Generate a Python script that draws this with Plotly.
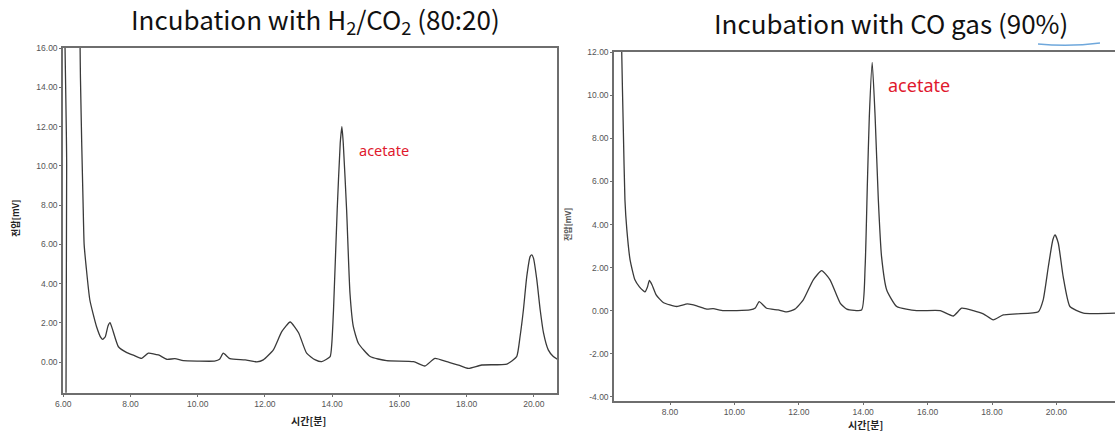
import plotly.graph_objects as go

# ---- data ----
left_time = [6.08, 6.10, 6.13, 6.45, 6.50, 6.51, 6.55, 6.59, 6.62, 6.68, 6.79, 6.99, 7.12, 7.17, 7.25, 7.33,
             7.39, 7.46, 7.64, 7.89, 8.10, 8.33, 8.53, 8.83, 9.08, 9.32, 9.57, 10.0, 10.5, 10.65, 10.76,
             10.96, 11.41, 11.76, 11.95, 12.25, 12.50, 12.75, 13.00, 13.24, 13.50, 13.69, 13.94, 13.99,
             14.04, 14.15, 14.24, 14.29, 14.33, 14.43, 14.53, 14.63, 14.78, 15.13, 15.62, 16.42, 16.76,
             17.06, 17.41, 17.76, 18.05, 18.45, 19.20, 19.49, 19.59, 19.69, 19.79, 19.89, 19.94, 19.99,
             20.09, 20.19, 20.29, 20.43, 20.58, 20.73]
left_signal = [-2.0, 10.0, 30.0, 30.0, 16.0, 14.5, 11.0, 8.0, 6.0, 4.87, 3.17, 1.81, 1.25, 1.17, 1.3, 1.85,
               2.02, 1.7, 0.79, 0.49, 0.35, 0.2, 0.46, 0.37, 0.15, 0.18, 0.08, 0.06, 0.06, 0.15, 0.46,
               0.18, 0.12, 0.02, 0.12, 0.63, 1.56, 2.05, 1.5, 0.46, 0.12, 0.03, 0.29, 0.97,
               2.66, 7.76, 11.16, 12.0, 11.16, 7.76, 3.51, 1.81, 0.97, 0.29, 0.08, 0.03, -0.19,
               0.2, 0.03, -0.14, -0.31, -0.14, -0.09, 0.29, 1.3, 2.66, 4.36, 5.38, 5.47, 5.3,
               4.19, 2.66, 1.48, 0.63, 0.29, 0.12]

right_time = [6.27, 6.45, 6.50, 6.55, 6.60, 6.66, 6.76, 6.91, 7.05, 7.17, 7.22, 7.30, 7.36, 7.44, 7.57, 7.79,
              8.21, 8.54, 8.83, 9.14, 9.34, 9.66, 10.48, 10.65, 10.77, 11.00, 11.36, 11.62, 11.88, 12.14,
              12.45, 12.71, 12.97, 13.29, 13.49, 13.95, 14.06, 14.13, 14.19, 14.28, 14.37, 14.47, 14.57,
              14.73, 15.04, 15.66, 16.39, 16.80, 17.06, 17.42, 17.73, 18.04, 18.35, 18.77, 19.44, 19.59,
              19.75, 19.89, 19.96, 20.06, 20.21, 20.42, 20.84, 21.82]
right_signal = [40.0, 20.0, 12.05, 8.41, 5.15, 3.75, 2.36, 1.43, 1.1, 0.92, 0.87, 1.1, 1.40, 1.2, 0.73, 0.38,
                0.19, 0.31, 0.22, 0.07, 0.09, 0.0, 0.03, 0.12, 0.42, 0.11, 0.03, -0.06, 0.07, 0.5,
                1.43, 1.86, 1.43, 0.34, 0.07, 0.03, 2.05, 5.93, 9.02, 11.53, 9.02, 5.15, 2.51,
                0.96, 0.19, 0.0, 0.0, -0.25, 0.11, 0.0, -0.15, -0.43, -0.2, -0.15, -0.05, 0.5,
                2.05, 3.29, 3.52, 3.13, 1.58, 0.19, -0.12, -0.12]

left_xticks = [6, 8, 10, 12, 14, 16, 18, 20]
left_yticks = [0, 2, 4, 6, 8, 10, 12, 14, 16]
right_xticks = [8, 10, 12, 14, 16, 18, 20]
right_yticks = [-4, -2, 0, 2, 4, 6, 8, 10, 12]

titles = ["Incubation with H<sub>2</sub>/CO<sub>2</sub> (80:20)", "Incubation with CO gas (90%)"]
peak_label = "acetate"
x_title = "시간[분]"
y_title = "전압[mV]"

W, H = 1115, 432

fig = go.Figure()
line_style = dict(color="#3a3a3a", width=1.3, shape="spline", smoothing=0.5)
fig.add_trace(go.Scatter(x=left_time, y=left_signal, mode="lines", line=line_style,
                         xaxis="x", yaxis="y", showlegend=False, hoverinfo="skip"))
fig.add_trace(go.Scatter(x=right_time, y=right_signal, mode="lines", line=line_style,
                         xaxis="x2", yaxis="y2", showlegend=False, hoverinfo="skip"))

def fmt(v):
    return f"{v:.2f}"

tick_font = dict(family="Liberation Sans, Arial", size=8.5, color="#555555")
common = dict(showgrid=False, zeroline=False, showline=True, linecolor="#6e6e6e", linewidth=2,
              ticks="outside", ticklen=2, tickcolor="#6e6e6e", tickfont=tick_font, automargin=False)

fig.update_layout(
    width=W, height=H, margin=dict(l=0, r=0, t=0, b=0, pad=0), autosize=False,
    paper_bgcolor="white", plot_bgcolor="white",
    xaxis=dict(domain=[63.3 / W, 557 / W], range=[6.0, 20.69], anchor="y", mirror=True,
               tickvals=left_xticks, ticktext=[fmt(v) for v in left_xticks], **common),
    yaxis=dict(domain=[(H - 392.7) / H, (H - 48) / H], range=[-1.55, 16.0], anchor="x", mirror=True,
               tickvals=left_yticks, ticktext=[fmt(v) for v in left_yticks], **common),
    xaxis2=dict(domain=[614.3 / W, 1.0], range=[6.27, 21.82], anchor="y2", mirror=True,
                tickvals=right_xticks, ticktext=[fmt(v) for v in right_xticks], **common),
    yaxis2=dict(domain=[(H - 401) / H, (H - 51.7) / H], range=[-4.2, 12.03], anchor="x2", mirror=False,
                tickvals=right_yticks, ticktext=[fmt(v) for v in right_yticks], **common),
)

ann = []
# titles
ann.append(dict(text=titles[0], x=315 / W, y=(H - 20) / H, xref="paper", yref="paper",
                showarrow=False, xanchor="center", yanchor="middle",
                font=dict(family="Noto Sans CJK KR, Noto Sans", size=26, color="#111111")))
ann.append(dict(text=titles[1], x=891 / W, y=(H - 22) / H, xref="paper", yref="paper",
                showarrow=False, xanchor="center", yanchor="middle",
                font=dict(family="Noto Sans CJK KR, Noto Sans", size=26, color="#111111")))
# acetate labels
ann.append(dict(text=peak_label, x=14.74, y=10.8, xref="x", yref="y", showarrow=False,
                xanchor="left", yanchor="middle", font=dict(family="Noto Sans", size=14.5, color="#e0182d")))
ann.append(dict(text=peak_label, x=14.71, y=10.5, xref="x2", yref="y2", showarrow=False,
                xanchor="left", yanchor="middle", font=dict(family="Noto Sans", size=18, color="#e0182d")))
# axis titles
for cx, cy in ((308, 420), (865, 424)):
    ann.append(dict(text="<b>" + x_title + "</b>", x=cx / W, y=(H - cy) / H, xref="paper", yref="paper",
                    showarrow=False, xanchor="center", yanchor="middle",
                    font=dict(family="Noto Sans CJK KR", size=10, color="#222222")))
ann.append(dict(text="<b>" + y_title + "</b>", x=15 / W, y=(H - 218) / H, xref="paper", yref="paper",
                showarrow=False, textangle=-90, xanchor="center", yanchor="middle",
                font=dict(family="Noto Sans CJK KR", size=9, color="#222222")))
ann.append(dict(text="<b>" + y_title + "</b>", x=568 / W, y=(H - 225) / H, xref="paper", yref="paper",
                showarrow=False, textangle=-90, xanchor="center", yanchor="middle",
                font=dict(family="Noto Sans CJK KR", size=8, color="#555555")))
fig.update_layout(annotations=ann)

# light blue pen stroke under the right title
fig.add_shape(type="path", xref="paper", yref="paper",
              path=f"M {1038/W},{(H-44)/H} Q {1070/W},{(H-47)/H} {1100/W},{(H-43)/H}",
              line=dict(color="#6fa8dc", width=1.5))

fig.write_html("out.html")
